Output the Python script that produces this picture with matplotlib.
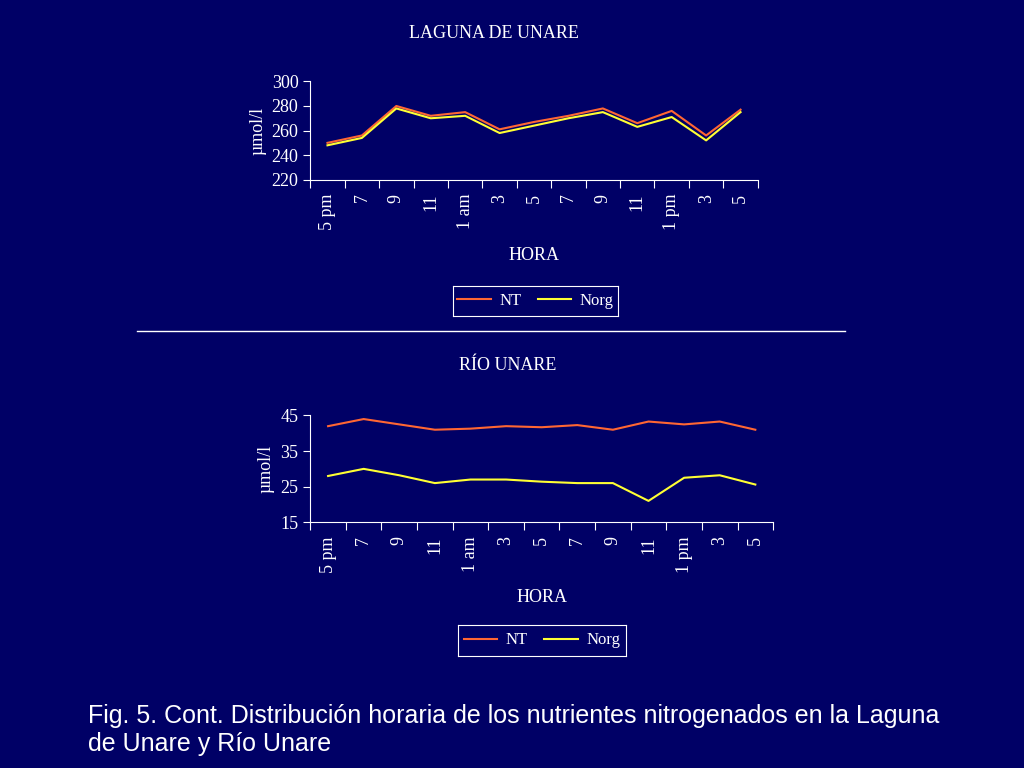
import matplotlib
matplotlib.use("Agg")
import matplotlib.pyplot as plt
from matplotlib.lines import Line2D

hours = ["5 pm","7","9","11","1 am","3","5","7","9","11","1 pm","3","5"]
lag_nt = [250,256,280,272,275,261,267,272,278,266,276,256,277]
lag_norg = [248,254,278,270,272,258,264,270,275,263,271,252,275]
rio_nt = [42,44,42.5,41,41.3,42,41.7,42.3,41,43.3,42.5,43.3,41]
rio_norg = [28,30,28.2,26,27,27,26.4,26,26,21,27.5,28.2,25.6]

BG = "#000066"
ORANGE = "#ff6633"
YELLOW = "#ffff33"
serif = "Liberation Serif"

fig = plt.figure(figsize=(10.24,7.68), dpi=100, facecolor=BG)

def panel(rect, title, nt, norg, ylim, yticks, title_xy, leg_rect):
    ax = fig.add_axes(rect, facecolor=BG)
    x = range(len(hours))
    ax.plot(x, nt, color=ORANGE, lw=1.5)
    ax.plot(x, norg, color=YELLOW, lw=1.5)
    ax.set_xlim(-0.5, len(hours)-0.5)
    ax.set_ylim(*ylim)
    ax.set_yticks(yticks)
    ax.set_xticks([i-0.5 for i in range(len(hours)+1)], minor=False)
    ax.set_xticklabels([])
    ax.set_xticks(list(x), minor=True)
    ax.set_xticklabels(hours, minor=True, rotation=90, fontfamily=serif, fontsize=13, color="white")
    ax.tick_params(axis="x", which="minor", length=0, pad=10)
    ax.tick_params(axis="x", which="major", length=6, color="white", direction="out")
    ax.tick_params(axis="y", colors="white", labelsize=13, length=5)
    for l in ax.get_yticklabels():
        l.set_fontfamily(serif)
    for s in ["top","right"]:
        ax.spines[s].set_visible(False)
    for s in ["left","bottom"]:
        ax.spines[s].set_color("white")
    ax.set_ylabel("µmol/l", color="white", fontfamily=serif, fontsize=13)
    ax.set_xlabel("HORA", color="white", fontfamily=serif, fontsize=13, labelpad=12)
    fig.text(title_xy[0], title_xy[1], title, color="white", fontfamily=serif, fontsize=13, ha="center")
    lax = fig.add_axes(leg_rect, facecolor=BG)
    lax.set_xticks([]); lax.set_yticks([])
    for s in lax.spines.values():
        s.set_color("white")
    handles = [Line2D([],[],color=ORANGE,lw=1.5), Line2D([],[],color=YELLOW,lw=1.5)]
    lax.legend(handles, ["NT","Norg"], loc="center", ncol=2, frameon=False,
               prop={"family":serif,"size":12}, labelcolor="white", handlelength=2.0,
               handletextpad=0.5, columnspacing=1.0)

panel([0.303,0.766,0.437,0.128], "LAGUNA DE UNARE", lag_nt, lag_norg, (220,300), [220,240,260,280,300],
      (494/1024, 0.951), [453/1024, 1-316/768, 165/1024, 30/768])
panel([0.303,0.320,0.452,0.139], "RÍO UNARE", rio_nt, rio_norg, (15,45), [15,25,35,45],
      (508/1024, 0.518), [458/1024, 1-656/768, 168/1024, 31/768])

fig.add_artist(Line2D([137/1024,845/1024],[1-331/768,1-331/768], color="white", lw=1))
fig.text(88/1024, 1-730/768, "Fig. 5. Cont. Distribución horaria de los nutrientes nitrogenados en la Laguna\nde Unare y Río Unare",
         color="white", fontfamily="Liberation Sans", fontsize=18, va="center", linespacing=1.25)

fig.savefig("out.png", dpi=100, facecolor=BG)
